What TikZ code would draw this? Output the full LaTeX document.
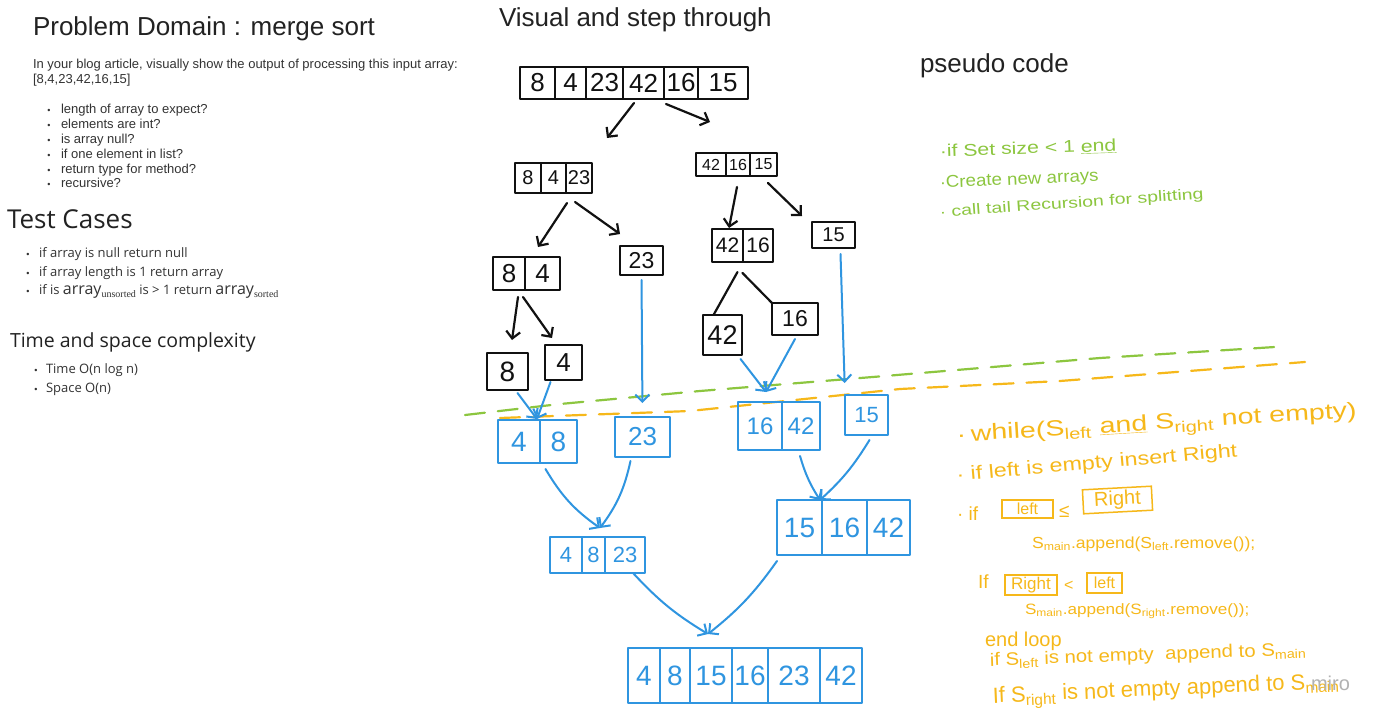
\documentclass[tikz,border=0pt]{standalone}
\usepackage{fontspec}
\setmainfont{Liberation Sans}
\newfontfamily\osans{Open Sans}
\newfontfamily\serifsub{Liberation Serif}
\newfontfamily\handf{Liberation Sans}
\usetikzlibrary{arrows.meta,fit,calc}
\definecolor{kink}{HTML}{111111}
\definecolor{bink}{HTML}{2F95E0}
\definecolor{gink}{HTML}{8CC63F}
\definecolor{yink}{HTML}{F6B81A}
\definecolor{txt}{HTML}{333333}
\definecolor{head}{HTML}{222222}
\newcommand\fs[1]{\fontsize{#1}{#1}\selectfont}
\newcommand\hx[2]{\scalebox{#1}[1]{#2}}
\newcommand\mkarr[8]{%
  \node[inner sep=0pt, outer sep=0pt, fit={(#3,#4)(#5,#6)}] (#1) {};
  \foreach \xa/\xb/\lab [count=\i] in {#8} {
    \node[cellbox, draw=#2, text=#2, font=\handf\fs{#7},
      minimum width={(\xb-\xa)*1pt}, minimum height={(#6-#4)*1pt}]
      (#1-\i) at ({(\xa+\xb)/2},{(#4+#6)/2}) {\lab};
  }%
}
\tikzset{
  cellbox/.style={rectangle, inner sep=0pt, outer sep=0pt, line width=2pt, line join=round},
  kline/.style={draw=kink, line width=2.2pt, line cap=round, line join=round},
  karrow/.style={kline, -{Straight Barb[length=7pt,width=14pt]}},
  bline/.style={draw=bink, line width=2pt, line cap=round, line join=round},
  barrow/.style={bline, -{Straight Barb[length=7pt,width=14pt]}},
  gdash/.style={draw=gink, line width=2.2pt, dash pattern=on 20pt off 13pt, line cap=round},
  ydash/.style={draw=yink, line width=2.2pt, dash pattern=on 20pt off 13pt, line cap=round},
  tx/.style={anchor=base west, inner sep=0pt, outer sep=0pt},
  bul/.style={anchor=base, inner sep=0pt, font=\fs{9}},
  gtx/.style={tx, text=gink},
  ytx/.style={tx, text=yink},
  ybox/.style={draw=yink, line width=1.5pt, text=yink, inner sep=0pt},
}
\begin{document}
\begin{tikzpicture}[x=1pt,y=-1pt]
\useasboundingbox (0,0) rectangle (1387,720);
\fill[white] (0,0) rectangle (1387,720);

% ---------- left column text ----------
\node[tx, text=head, font=\fs{26}] (t1) at (33,35) {Problem Domain : merge sort};
\node[tx, text=txt, font=\fs{13}] (t2) at (33,68) {In your blog article, visually show the output of processing this input array:};
\node[tx, text=txt, font=\fs{13}] (t3) at (33,83) {[8,4,23,42,16,15]};
\foreach \y/\s [count=\i] in {113/length of array to expect?,128/elements are int?,143/is array null?,158/if one element in list?,173/return type for method?,187/recursive?}{
  \node[bul, text=txt] (qb\i) at (49,\y) {•};
  \node[tx, text=txt, font=\fs{13}] (q\i) at (61,\y) {\s};
}
\node[tx, text=head, font=\osans\fs{26}] (t4) at (7,228) {Test Cases};
\node[bul, text=txt] (tb1) at (28,257) {•};
\node[tx, text=txt, font=\osans\fs{13}] (tc1) at (39,257) {if array is null return null};
\node[bul, text=txt] (tb2) at (28,276) {•};
\node[tx, text=txt, font=\osans\fs{13}] (tc2) at (39,276) {if array length is 1 return array};
\node[bul, text=txt] (tb3) at (28,294) {•};
\node[tx, text=txt, font=\osans\fs{13}] (tc3) at (39,294) {if is {\fs{16}array}\raisebox{-3pt}{\serifsub\fs{10}unsorted} is > 1 return {\fs{16}array}\raisebox{-3pt}{\serifsub\fs{10}sorted}};
\node[tx, text=head, font=\osans\fs{19.5}] (t5) at (10,347) {Time and space complexity};
\node[bul, text=txt] (sb1) at (36,373) {•};
\node[tx, text=txt, font=\osans\fs{13}] (s1) at (46,373) {Time O(n log n)};
\node[bul, text=txt] (sb2) at (36,392) {•};
\node[tx, text=txt, font=\osans\fs{13}] (s2) at (46,392) {Space O(n)};

\node[tx, text=head, font=\fs{26}] (t6) at (499,27) {Visual and step through};
\node[tx, text=head, font=\fs{26}] (t7) at (920,72) {pseudo code};

% ---------- split phase (black) ----------
\mkarr{top}{kink}{520}{67}{748}{99}{26}{520/555/8,555/586/4,586/623/23,623/664/42,664/698/16,698/748/15}
\mkarr{k8423}{kink}{515}{163}{592}{193}{20}{515/541/8,541/566/4,566/592/23}
\mkarr{k421615}{kink}{696}{153}{777}{176}{16}{696/726/42,726/750/16,750/777/15}
\mkarr{k84}{kink}{493}{257}{560}{290}{26}{493/525/8,525/560/4}
\mkarr{k23}{kink}{620}{246}{663}{275}{23}{620/663/23}
\mkarr{k4216}{kink}{712}{229}{773}{262}{21}{712/743/42,743/773/16}
\mkarr{k15}{kink}{812}{222}{855}{248}{20}{812/855/15}
\mkarr{k8}{kink}{487}{353}{528}{390}{28}{487/528/8}
\mkarr{k4}{kink}{545}{345}{582}{380}{26}{545/582/4}
\mkarr{k42}{kink}{703}{315}{742}{355}{27}{703/742/42}
\mkarr{k16}{kink}{772}{303}{818}{335}{23}{772/818/16}

\coordinate (c1) at (607,138);
\coordinate (c2) at (710,122);
\coordinate (c3) at (538,247);
\coordinate (c4) at (620,234);
\coordinate (c5) at (729,228);
\coordinate (c6) at (802,216);
\coordinate (c7) at (512,340);
\coordinate (c8) at (552,338);
\draw[karrow] ($(top.south)+(0,4)$) -- (c1);
\draw[karrow] ($(top-5.south west)+(2,5)$) -- (c2);
\draw[karrow] ($(k8423-2.south east)+(1,10)$) -- (c3);
\draw[karrow] ($(k8423-3.south)+(-4,9)$) -- (c4);
\draw[karrow] ($(k421615-1.south east)+(11,11)$) -- (c5);
\draw[karrow] ($(k421615-2.south east)+(18,7)$) -- (c6);
\draw[karrow] ($(k84-1.south east)+(-7,7)$) -- (c7);
\draw[karrow] ($(k84-1.south east)+(-2,7)$) -- (c8);
\draw[kline] ($(k4216.south)+(-5,10)$) -- ([xshift=-9pt]k42.north);
\draw[kline] ($(k4216.south)+(0,11)$) -- (k16.north west);

% ---------- dashed separators ----------
\draw[gdash] (465,415) -- (560,404) -- (700,391) -- (885,376) -- (1100,358) -- (1275,347);
\draw[ydash] (500,418) -- (690,411) -- (900,389) -- (1060,381) -- (1305,362);

% ---------- merge phase (blue) ----------
\mkarr{b48}{bink}{498}{420}{577}{463}{28}{498/540/4,540/577/8}
\mkarr{b23}{bink}{615}{417}{670}{457}{26}{615/670/23}
\mkarr{b1642}{bink}{738}{402}{820}{450}{24}{738/782/16,782/820/42}
\mkarr{b15}{bink}{845}{395}{888}{435}{22}{845/888/15}
\mkarr{b4823}{bink}{550}{537}{645}{573}{22}{550/582/4,582/605/8,605/645/23}
\mkarr{b151642}{bink}{777}{500}{910}{555}{28}{777/822/15,822/867/16,867/910/42}
\mkarr{fin}{bink}{628}{648}{862}{703}{28}{628/660/4,660/690/8,690/732/15,732/768/16,768/820/23,820/862/42}

\coordinate (m1) at (537,419);
\coordinate (m2) at (766,392);
\coordinate (m3) at (600,528);
\coordinate (m4) at (820,500);
\coordinate (m5) at (708,634);
\draw[barrow] ($(k8.south)+(10,3)$) -- (m1);
\draw[barrow] ($(k4.south)+(-13,2)$) -- (m1);
\draw[barrow, shorten <=5pt, shorten >=14pt] (k23.south) -- (b23.north);
\draw[barrow] ($(k42.south)+(18,4)$) -- (m2);
\draw[barrow] ($(k16.south)+(0,4)$) -- (m2);
\draw[barrow, shorten >=12pt] ($(k15.south)+(7,6)$) -- (b15.north west);
\draw[barrow] ($(b48.south)+(8,6)$) to[bend right=12] (m3);
\draw[barrow] ($(b23.south)+(-12,4)$) to[bend left=12] (m3);
\draw[barrow] ($(b1642.south)+(21,6)$) to[bend right=8] (m4);
\draw[barrow] ($(b15.south)+(3,5)$) to[bend left=8] (m4);
\draw[barrow] ($(b4823.south east)+(-12,0)$) to[bend right=8] (m5);
\draw[barrow] ($(b151642.south west)+(0,6)$) to[bend left=8] (m5);

% ---------- pseudo code (green) ----------
\node[gtx, font=\handf\fs{17}, rotate=2] (g1) at (940,157) {\hx{1.25}{·if Set size < 1 \underline{end}}};
\node[gtx, font=\handf\fs{17}, rotate=2.5] (g2) at (940,188) {\hx{1.1}{·Create new arrays}};
\node[gtx, font=\handf\fs{15}, rotate=4] (g3) at (940,217) {\hx{1.3}{· call tail Recursion for splitting}};

% ---------- pseudo code (yellow) ----------
\node[ytx, font=\handf\fs{22}, rotate=3.5] (y1) at (957,442) {\hx{1.3}{·\,while(S\textsubscript{left} \underline{and} S\textsubscript{right} not empty)}};
\node[ytx, font=\handf\fs{19}, rotate=5] (y2) at (957,481) {\hx{1.23}{· if left is empty insert Right}};
\node[ytx, font=\handf\fs{19}] (y3) at (957,520) {· if};
\node[ybox, font=\handf\fs{16}, minimum width=51pt, minimum height=18pt] (ylf) at (1027.5,509) {left};
\node[ytx, font=\handf\fs{19}] (yle) at (1059,517) {≤};
\node[ybox, font=\handf\fs{20}, minimum width=69pt, minimum height=24pt, rotate=3] (yrt) at (1117.5,500) {Right};
\node[ytx, font=\handf\fs{16}] (y4) at (1032,548) {\hx{1.1}{S\textsubscript{main}.append(S\textsubscript{left}.remove());}};
\node[ytx, font=\handf\fs{19}] (y5) at (978,588) {If};
\node[ybox, font=\handf\fs{17}, minimum width=52pt, minimum height=20pt] (yrt2) at (1031,585) {Right};
\node[ytx, font=\handf\fs{16}] (ylt) at (1064,590) {<};
\node[ybox, font=\handf\fs{16}, minimum width=35pt, minimum height=20pt] (ylf2) at (1104.5,583) {left};
\node[ytx, font=\handf\fs{15}] (y6) at (1025,614) {\hx{1.14}{S\textsubscript{main}.append(S\textsubscript{right}.remove());}};
\node[ytx, font=\handf\fs{20}] (y7) at (985,646) {end loop};
\node[ytx, font=\handf\fs{18}, rotate=2] (y8) at (990,666) {\hx{1.13}{if S\textsubscript{left} is not empty \ append to S\textsubscript{main}}};
\node[ytx, font=\handf\fs{22}, rotate=2.5] (y9) at (993,703) {\hx{1.0}{If S\textsubscript{right} is not empty append to S\textsubscript{main}}};

\node[tx, text=black!30, font=\fs{20}] (miro) at (1311,690) {miro};
\end{tikzpicture}
\end{document}
